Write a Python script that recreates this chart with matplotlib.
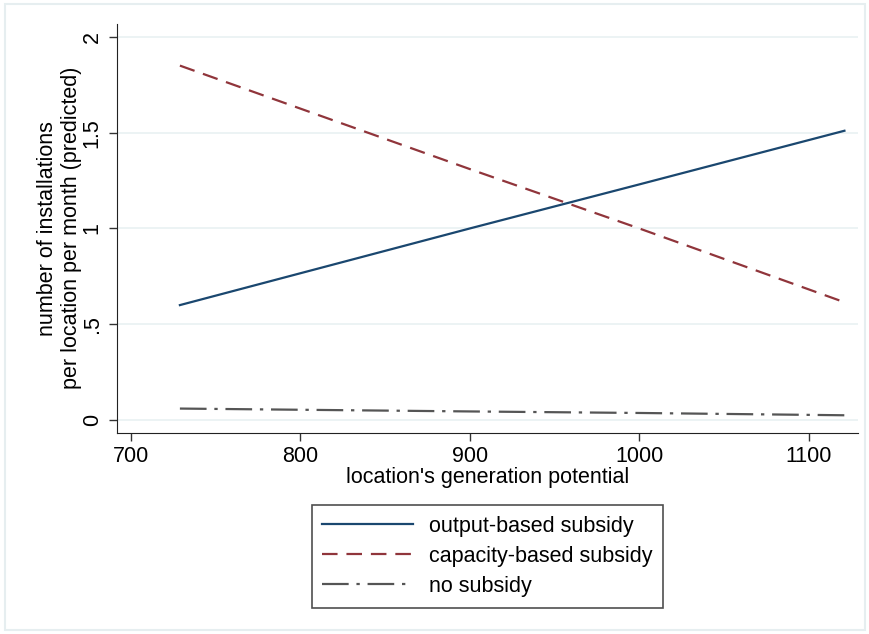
import matplotlib
matplotlib.use("Agg")
import matplotlib.pyplot as plt
from matplotlib.patches import Rectangle

plt.rcParams['font.family'] = ['Liberation Sans', 'DejaVu Sans']

# predicted installations
potential = [729, 900, 1000, 1121]
output_based = [0.60, 1.00, 1.23, 1.51]
capacity_based = [1.85, 1.31, 1.00, 0.615]
no_subsidy = [0.06, 0.045, 0.037, 0.025]

series_labels = ["output-based subsidy", "capacity-based subsidy", "no subsidy"]
x_ticks = [700, 800, 900, 1000, 1100]
y_ticks = [0, 0.5, 1, 1.5, 2]
y_ticklabels = ["0", ".5", "1", "1.5", "2"]

fs = 15.5

fig = plt.figure(figsize=(8.7, 6.34), dpi=100)
# light outer frame like the stata graph region
fig.patches.append(Rectangle((0.006, 0.006), 0.988, 0.988, transform=fig.transFigure,
                             fill=False, edgecolor="#e6eef0", linewidth=1.5))

ax = fig.add_axes([0.1341, 0.3178, 0.8521, 0.6443])
ax.plot(potential, output_based, color="#1a476f", lw=1.6, label=series_labels[0])
ax.plot(potential, capacity_based, color="#90353b", lw=1.6, dashes=(7, 4), label=series_labels[1])
ax.plot(potential, no_subsidy, color="#555555", lw=1.6, dashes=(12, 3.5, 1.5, 3.5),
        label=series_labels[2])

ax.set_xlim(691.7, 1129)
ax.set_ylim(-0.065, 2.067)
ax.set_xticks(x_ticks)
ax.set_yticks(y_ticks)
ax.set_yticklabels(y_ticklabels, rotation=90, va="center")
ax.tick_params(axis="both", labelsize=fs, length=6, color="#333333", width=1, pad=4)
ax.grid(axis="y", color="#eaf2f3", lw=1.3)
ax.set_axisbelow(True)
for side in ["top", "right"]:
    ax.spines[side].set_visible(False)
for side in ["left", "bottom"]:
    ax.spines[side].set_color("#222222")
ax.set_xlabel("location's generation potential", fontsize=fs, labelpad=0)
ax.set_ylabel("number of installations\nper location per month (predicted)", fontsize=fs,
              labelpad=0, linespacing=1.2)

leg = fig.legend(loc="upper center", bbox_to_anchor=(0.5603, 0.2035), ncol=1, fontsize=fs,
                 frameon=True, fancybox=False, handlelength=4.2, borderpad=0.5,
                 labelspacing=0.42, handletextpad=0.75, borderaxespad=0)
leg.get_frame().set_edgecolor("#222222")
leg.get_frame().set_linewidth(1.2)

fig.savefig("out.png", dpi=100)
